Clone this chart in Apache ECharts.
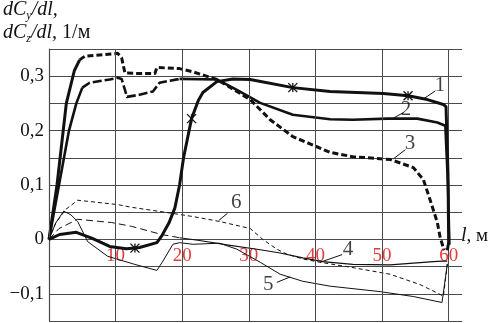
<!DOCTYPE html>
<html><head><meta charset="utf-8">
<script src="https://cdn.jsdelivr.net/npm/echarts@6/dist/echarts.min.js"></script>
<style>html,body{margin:0;padding:0;background:#fff}#c{width:492px;height:323px}</style>
</head><body><div id="c"></div>
<script>
// ---- data (x = l, м ; y = dC/dl, 1/м) ----
const xGridTicks = [0, 10, 20, 30, 40, 50, 60];
const xLabelTicks = [10, 20, 30, 40, 50, 60];
const yLabelTicks = [-0.1, 0, 0.1, 0.2, 0.3];

const curve1 = [[0,0],[1.6,0.009],[4.1,0.013],[6.5,0.002],[9.1,-0.013],[11.6,-0.017],[12.9,-0.016],[13.6,-0.015],[16.2,-0.006],[17.0,0.008],[18.0,0.030],[18.9,0.058],[19.6,0.100],[20.2,0.150],[21.4,0.222],[22.4,0.255],[23.1,0.270],[25.2,0.290],[27.6,0.295],[30.2,0.294],[36.6,0.279],[42.2,0.272],[50.2,0.268],[53.9,0.264],[56.8,0.257],[59.2,0.248],[59.6,0.244],[59.9,0.12],[60.0,-0.005],[59.8,-0.02]];
const curve1Marks = [12.9, 21.4, 36.6, 53.9];

const curve2Rise = [[0,0],[1.5,0.10],[3.0,0.20],[4.1,0.250],[5.0,0.279]];
const curve2Dash = [[5.0,0.279],[6.1,0.288],[9.1,0.294],[10.3,0.297],[10.9,0.295],[11.4,0.275],[11.7,0.262],[13.6,0.266],[15.6,0.272],[16.6,0.288],[19.6,0.295]];
const curve2Main = [[19.6,0.295],[25.2,0.294],[28.2,0.275],[31.7,0.251],[36.6,0.229],[42.2,0.221],[45.6,0.220],[50.8,0.222],[55.3,0.222],[58.3,0.215],[59.5,0.209],[59.9,0.10],[60.1,-0.01]];

const curve3Rise = [[0,0],[1.2,0.10],[2.6,0.25],[3.8,0.31],[4.6,0.330]];
const curve3Dash = [[4.6,0.330],[5.4,0.337],[7.6,0.339],[10.3,0.342],[10.9,0.334],[11.4,0.306],[13.2,0.305],[15.9,0.305],[16.2,0.316],[19.6,0.314],[21.6,0.308],[25.2,0.294],[28.2,0.272],[30.2,0.257],[33.2,0.220],[36.6,0.189],[42.2,0.160],[45.6,0.152],[51.2,0.147],[54.7,0.132],[56.2,0.110],[57.2,0.073],[58.3,0.031],[58.7,0.005],[59.3,-0.020]];

const curve4Dash = [[0,0],[1.5,0.020],[4.3,0.037],[9.4,0.031],[12.4,0.024],[16.9,0.009],[19.6,0.003]];
const curve4Main = [[19.6,0.003],[22.6,-0.002],[26.7,-0.010],[31.7,-0.019],[34.7,-0.025],[38.1,-0.034],[41.1,-0.041],[45.6,-0.046],[51.2,-0.047],[57.7,-0.041],[59.0,-0.040],[59.8,-0.040]];

const curve5 = [[0,0],[1.0,0.030],[2.2,0.052],[3.3,0.045],[4.3,0.033],[5.8,-0.004],[8.8,-0.031],[12.9,-0.046],[16.2,-0.057],[17.0,-0.042],[18.6,-0.009],[19.6,-0.006],[21.6,-0.009],[25.6,-0.007],[28.2,-0.018],[31.7,-0.042],[34.7,-0.064],[38.1,-0.077],[42.2,-0.086],[49.7,-0.096],[54.7,-0.105],[59.0,-0.116],[59.8,-0.045]];

const curve6 = [[0,0],[1.0,0.030],[2.5,0.055],[4.3,0.072],[10.3,0.064],[12.4,0.059],[17.4,0.050],[21.6,0.042],[25.6,0.033],[30.2,0.020],[32.1,0.0],[34.2,-0.018],[35.7,-0.027],[38.1,-0.036],[40.7,-0.042],[45.2,-0.051],[51.2,-0.064],[52.6,-0.070],[55.7,-0.083],[58.7,-0.101],[59.2,-0.105],[59.8,-0.045]];

const curveNames = ['1','2','3','4','5','6'];
const namePos = [[58.7,0.283],[53.6,0.239],[54.2,0.176],[44.9,-0.018],[32.9,-0.083],[28.1,0.068]];
const leaderFrom = [[56.3,0.259],[51.7,0.223],[51.7,0.148],[40.7,-0.042],[36.2,-0.069],[25.5,0.035]];
const leaderTo = [[58.0,0.273],[53.2,0.233],[53.5,0.165],[44.0,-0.028],[34.2,-0.079],[26.8,0.048]];

// ---- chart ----
const SERIF = '"Liberation Serif", "DejaVu Serif", serif';
const BLACK = '#111';
const GRID = '#4a4a4a';
const markPath = 'path://M0,0L10,10M10,0L0,10M5,0L5,10';
const Y_MIN = -0.15, Y_MAX = 0.35;
const GRID_TOP = 49, GRID_BOTTOM = 2, H = 323;
const plotH = H - GRID_TOP - GRID_BOTTOM;
const zeroOffset = -plotH * (0 - Y_MIN) / (Y_MAX - Y_MIN);

function lineSeries(data, width, type, z) {
  return { type: 'line', data: data, symbol: 'none', smooth: false, z: z || 2,
    lineStyle: { color: BLACK, width: width, type: type, cap: 'butt', join: 'round' },
    itemStyle: { color: BLACK }, silent: true, animation: false };
}

const c1 = curve1.map(p => curve1Marks.includes(p[0])
  ? { value: p, symbol: markPath, symbolSize: 9,
      itemStyle: { color: 'transparent', borderColor: BLACK, borderWidth: 1.3 } }
  : { value: p });

const series = [
  { type: 'line', data: [], silent: true, animation: false,
    markLine: { silent: true, symbol: 'none', label: { show: false },
      lineStyle: { color: GRID, width: 1, type: 'solid' },
      data: xGridTicks.map(v => ({ xAxis: v })) } },
  lineSeries(curve4Dash, 1, [7, 4], 3),
  lineSeries(curve4Main, 1.2, 'solid', 3),
  lineSeries(curve5, 1, 'solid', 3),
  lineSeries(curve6, 1, [4, 3], 3),
  lineSeries(curve2Rise, 2.6, 'solid', 4),
  lineSeries(curve2Dash, 2.6, [9, 3], 4),
  lineSeries(curve2Main, 2.6, 'solid', 4),
  lineSeries(curve3Rise, 3, 'solid', 4),
  lineSeries(curve3Dash, 3, [6, 3], 4),
  Object.assign(lineSeries(c1, 3, 'solid', 5), { symbol: 'none', showSymbol: true }),
];
curveNames.forEach((n, i) => {
  series.push(lineSeries([leaderFrom[i], leaderTo[i]], 1, 'solid', 3));
});
series.push({ type: 'scatter', symbol: 'circle', symbolSize: 1, silent: true, animation: false, z: 6,
  itemStyle: { color: 'transparent' },
  data: curveNames.map((n, i) => ({ name: n, value: namePos[i] })),
  label: { show: true, position: 'inside', formatter: '{b}', color: BLACK,
    fontFamily: SERIF, fontSize: 21 } });

const chart = echarts.init(document.getElementById('c'), null, { renderer: 'canvas' });
chart.setOption({
  animation: false,
  backgroundColor: '#fff',
  grid: { left: 49, top: GRID_TOP, right: 30, bottom: GRID_BOTTOM, containLabel: false },
  xAxis: { type: 'value', min: 0, max: 62, interval: 10, offset: zeroOffset,
    axisLine: { show: false, onZero: false },
    axisTick: { show: false }, splitLine: { show: false },
    axisLabel: { margin: 7, color: '#e23b3b', fontFamily: SERIF, fontSize: 19,
      formatter: v => xLabelTicks.includes(v) ? String(v) : '' } },
  yAxis: { type: 'value', min: Y_MIN, max: Y_MAX, interval: 0.05,
    axisLine: { show: true, lineStyle: { color: GRID, width: 1.2 } },
    axisTick: { show: false },
    splitLine: { show: true, lineStyle: { color: GRID, width: 1 } },
    axisLabel: { margin: 5, color: BLACK, fontFamily: SERIF, fontSize: 19,
      formatter: v => {
        const r = Math.round(v * 100);
        if (!yLabelTicks.some(t => Math.round(t * 100) === r)) return '';
        if (r === 0) return '0';
        return (r < 0 ? '\u22120,' : '0,') + Math.abs(r / 10);
      } } },
  graphic: [
    { type: 'text', left: 3, top: 0, silent: true,
      style: { text: '{i|dC}{s|y}{i|/dl,}\n{i|dC}{s|z}{i|/dl,} {n|1/м}',
        fill: BLACK, font: '20px ' + SERIF,
        rich: {
          i: { fontFamily: SERIF, fontStyle: 'italic', fontSize: 20, lineHeight: 23, fill: BLACK },
          s: { fontFamily: SERIF, fontStyle: 'italic', fontSize: 12, lineHeight: 12, verticalAlign: 'bottom', fill: BLACK },
          n: { fontFamily: SERIF, fontSize: 20, lineHeight: 23, fill: BLACK }
        } } },
    { type: 'text', left: 461, top: 226, silent: true,
      style: { text: '{i|l}{n|, м}', fill: BLACK,
        rich: {
          i: { fontFamily: SERIF, fontStyle: 'italic', fontSize: 20, fill: BLACK },
          n: { fontFamily: SERIF, fontSize: 19, fill: BLACK }
        } } }
  ],
  series: series
});
</script></body></html>
